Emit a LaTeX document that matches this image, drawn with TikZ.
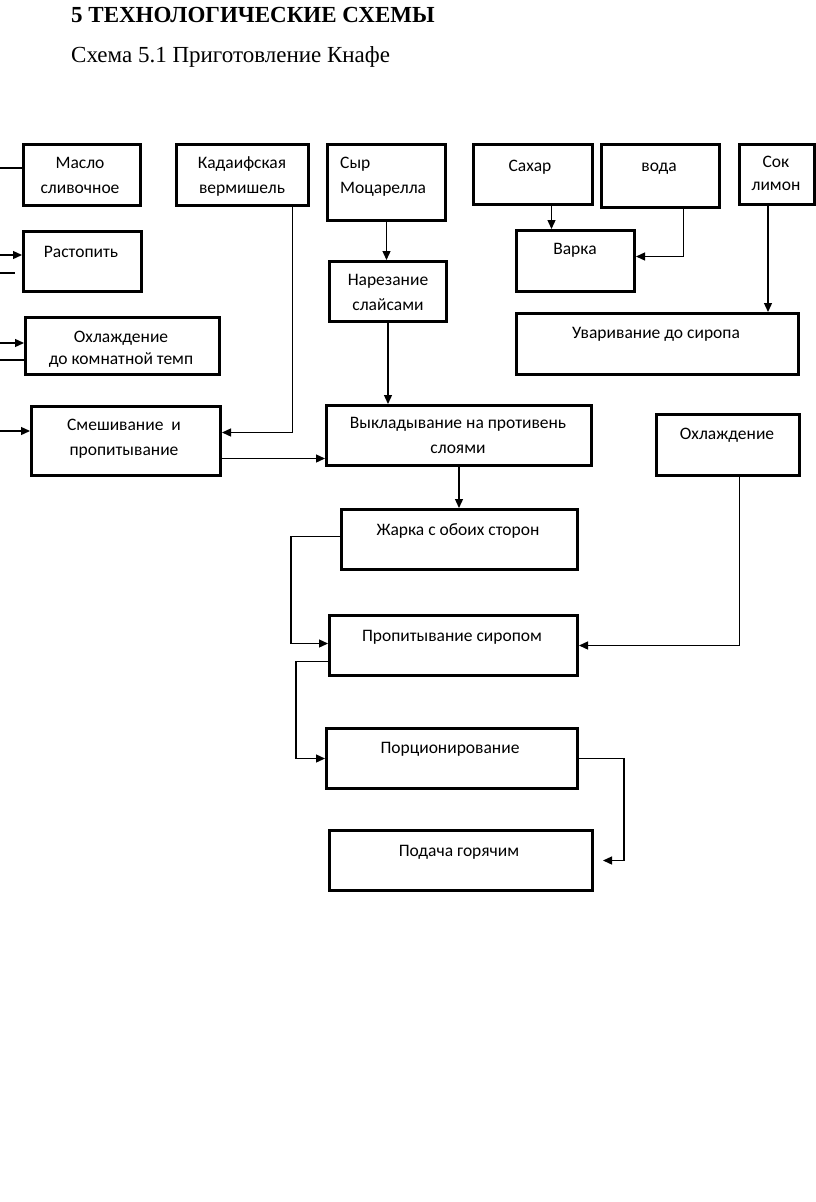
\documentclass[tikz,border=0pt]{standalone}
\usepackage{fontspec}
\setmainfont{Liberation Serif}
\newfontfamily\boxfont{Carlito}
\usetikzlibrary{arrows.meta}
\begin{document}
\begin{tikzpicture}[x=1pt,y=-1pt,
  box/.style={draw, line width=3pt, inner sep=0pt, outer sep=1.5pt, anchor=north west},
  lbl/.style={font=\boxfont\fontsize{17.5}{25}\selectfont, align=center, inner sep=0pt, anchor=base},
  conn/.style={line width=1.3pt},
  arr/.style={conn, -{Triangle[length=9pt,width=8pt]}}]
\useasboundingbox (0,0) rectangle (816,1202);
% title
\node[anchor=base west, inner sep=0pt, font=\bfseries\fontsize{23}{27}\selectfont] (title) at (71,22.5) {5 ТЕХНОЛОГИЧЕСКИЕ СХЕМЫ};
\node[anchor=base west, inner sep=0pt, font=\fontsize{23}{27}\selectfont] (subtitle) at (71,62.5) {Схема 5.1 Приготовление Кнафе};
% boxes
\node[box, minimum width=117pt, minimum height=61pt] (maslo) at (22,143) {};
\node[box, minimum width=132pt, minimum height=61pt] (kad) at (175,143) {};
\node[box, minimum width=118pt, minimum height=76pt] (syr) at (326,143) {};
\node[box, minimum width=119pt, minimum height=60pt] (sahar) at (472,143) {};
\node[box, minimum width=118pt, minimum height=63pt] (voda) at (600,143) {};
\node[box, minimum width=75pt, minimum height=60pt] (sok) at (738,143) {};
\node[box, minimum width=118pt, minimum height=61pt] (varka) at (515,229) {};
\node[box, minimum width=282pt, minimum height=61pt] (uvar) at (515,312) {};
\node[box, minimum width=118pt, minimum height=60pt] (rast) at (22,230) {};
\node[box, minimum width=117pt, minimum height=60pt] (nar) at (328,260) {};
\node[box, minimum width=194pt, minimum height=57pt] (ohlA) at (24,316) {};
\node[box, minimum width=189pt, minimum height=69pt] (smesh) at (30,405) {};
\node[box, minimum width=265pt, minimum height=60pt] (vykl) at (325,404) {};
\node[box, minimum width=143pt, minimum height=61pt] (ohlB) at (655,413) {};
\node[box, minimum width=236pt, minimum height=60pt] (zhar) at (340,508) {};
\node[box, minimum width=248pt, minimum height=60pt] (prop) at (328,614) {};
\node[box, minimum width=251pt, minimum height=60pt] (porc) at (325,727) {};
\node[box, minimum width=263pt, minimum height=60pt] (podacha) at (328,829) {};
% labels (anchor base = baseline of the last line)
\node[lbl] (tmaslo) at (80,193) {Масло\\сливочное};
\node[lbl] (tkad) at (242,193) {Кадаифская\\вермишель};
\node[lbl, align=left, anchor=base west] (tsyr) at (340,193) {Сыр\\Моцарелла};
\node[lbl] (tsahar) at (530,171) {Сахар};
\node[lbl] (tvoda) at (659,171) {вода};
\node[lbl, font=\boxfont\fontsize{17.5}{23}\selectfont] (tsok) at (776,190) {Сок\\лимон};
\node[lbl] (tvarka) at (575,254) {Варка};
\node[lbl] (tuvar) at (656,338) {Уваривание до сиропа};
\node[lbl] (trast) at (81,257) {Растопить};
\node[lbl] (tnar) at (388,310) {Нарезание\\слайсами};
\node[lbl, font=\boxfont\fontsize{17.5}{22}\selectfont] (tohlA) at (121,364) {Охлаждение\\до комнатной темп};
\node[lbl] (tsmesh) at (124,455) {Смешивание\ \ и\\пропитывание};
\node[lbl] (tvykl) at (458,453) {Выкладывание на противень\\слоями};
\node[lbl] (tohlB) at (727,439) {Охлаждение};
\node[lbl] (tzhar) at (458,535) {Жарка с обоих сторон};
\node[lbl] (tprop) at (452,641) {Пропитывание сиропом};
\node[lbl] (tporc) at (450,753) {Порционирование};
\node[lbl] (tpodacha) at (459,856) {Подача горячим};
% left-edge connectors (coming from outside the picture)
\coordinate (L1) at (0,168);
\coordinate (L2) at (0,255);
\coordinate (L3) at (0,273);
\coordinate (L3e) at (15,273);
\coordinate (L4) at (0,343);
\coordinate (L5) at (0,360);
\coordinate (L6) at (0,431);
\draw[conn] (L1) -- (L1 -| maslo.west);
\draw[arr] (L2) -- (L2 -| rast.west);
\draw[conn] (L3) -- (L3e);
\draw[arr] (L4) -- (L4 -| ohlA.west);
\draw[conn] (L5) -- (L5 -| ohlA.west);
\draw[arr] (L6) -- (L6 -| smesh.west);
% connectors
\draw[arr] ([xshift=50pt]kad.south) |- ([yshift=8.5pt]smesh.east);
\coordinate (s1) at ([yshift=-17.5pt]smesh.east);
\draw[arr] (s1) -- (s1 -| vykl.west);
\draw[arr] (syr.south) -- (syr.south |- nar.north);
\draw[arr] (nar.south) -- (nar.south |- vykl.north);
\coordinate (c1) at ([xshift=18.5pt]sahar.south);
\draw[arr] (c1) -- (c1 |- varka.north);
\draw[arr] ([xshift=23pt]voda.south) |- ([yshift=4.5pt]varka.east);
\coordinate (c2) at ([xshift=-9pt]sok.south);
\draw[arr] (c2) -- (c2 |- uvar.north);
\draw[arr] (vykl.south) -- (vykl.south |- zhar.north);
\draw[arr] ([yshift=3pt]zhar.west) -- ++(-49,0) |- ([yshift=2pt]prop.west);
\draw[arr] ([xshift=11.5pt]ohlB.south) |- (prop.east);
\draw[arr] ([yshift=-16pt]prop.west) -- ++(-32,0) |- (porc.west);
\draw[arr] (porc.east) -- ++(45,0) |- ([xshift=9pt]podacha.east);
\end{tikzpicture}
\end{document}
